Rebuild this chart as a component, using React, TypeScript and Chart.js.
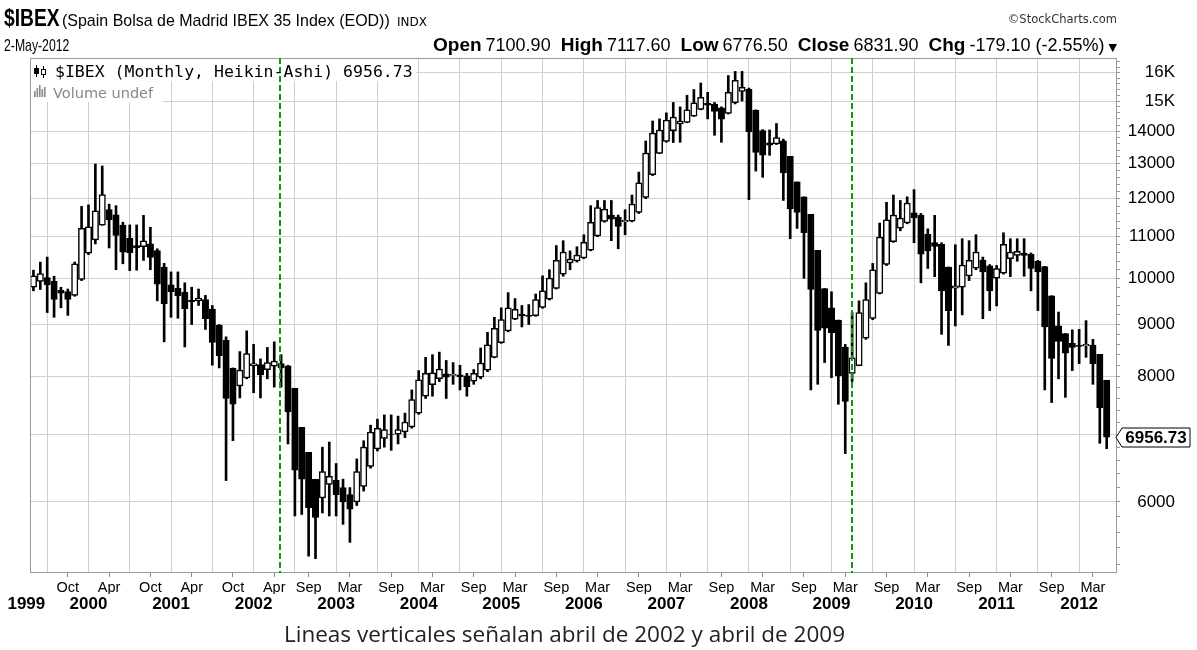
import React, { useEffect, useRef } from "react";
import { Chart, registerables } from "chart.js";

Chart.register(...registerables);

const SANS = "'Liberation Sans', Arial, sans-serif";
const MONO = "'DejaVu Sans Mono', monospace";
const DEJAVU = "'DejaVu Sans', sans-serif";

// ---------------- data ----------------
const firstYear = 1999;
const firstMonth = 5; // May 1999
const slotCount = 158; // May 1999 .. Jun 2012 (last slot empty)
const monthNames = ["Jan", "Feb", "Mar", "Apr", "May", "Jun", "Jul", "Aug", "Sep", "Oct", "Nov", "Dec"];

// Heikin-Ashi monthly candles, May 1999 .. May 2012
const haOpen = [
  9800, 9930, 10020, 9935, 9733, 9701, 9616, 9978,
  10594, 10922, 11296, 11703, 11567, 11299, 10960, 10780, 10750, 10825, 10658, 10264,
  9852, 9776, 9693, 9512, 9496, 9528, 9324, 8982, 8681, 8140, 7820, 7965,
  8193, 8212, 8116, 8183, 8232, 8191, 7780, 7115, 6718, 6319, 6055, 6243,
  6302, 6201, 6100, 6000, 6215, 6508, 6774, 6937, 7008, 7004, 7042, 7121,
  7350, 7640, 7845, 7952, 8041, 8010, 8020, 8005, 7908, 7979, 8110, 8350,
  8635, 8868, 9109, 9215, 9198, 9184, 9357, 9539, 9775, 10098, 10359, 10405,
  10478, 10669, 11020, 11390, 11555, 11503, 11382, 11401, 11626, 12033, 12677, 13309,
  13675, 14018, 14239, 14285, 14493, 14717, 14924, 14892, 14771, 14581, 14940, 15335,
  15408, 14694, 14017, 13634, 13597, 13699, 13215, 12468, 12049, 11575, 10663, 9772,
  9349, 9092, 8546, 8048, 8194, 8722, 9126, 9663, 10327, 10879, 11220, 11350,
  11615, 11548, 11059, 10855, 10808, 10264, 9777, 9804, 10057, 10239, 10430, 10290,
  10005, 10118, 10464, 10542, 10591, 10566, 10398, 10274, 9612, 8971, 8816, 8623,
  8582, 8571, 8586, 8408, 7924,
];
const haClose = [
  10060, 10110, 9850, 9530, 9670, 9530, 10340, 11210,
  11250, 11670, 12110, 11430, 11030, 10620, 10600, 10720, 10900, 10490, 9870, 9440,
  9700, 9610, 9330, 9480, 9560, 9120, 8640, 8380, 7600, 7500, 8110, 8420,
  8230, 8020, 8250, 8280, 8150, 7370, 6450, 6320, 5920, 5790, 6430, 6360,
  6100, 6000, 5900, 6430, 6800, 7040, 7100, 7080, 7000, 7080, 7200, 7580,
  7930, 8050, 8060, 8130, 7980, 8030, 7990, 7810, 8050, 8240, 8590, 8920,
  9100, 9350, 9320, 9180, 9170, 9530, 9720, 10010, 10420, 10620, 10450, 10550,
  10860, 11370, 11760, 11720, 11450, 11260, 11420, 11850, 12440, 13320, 13940, 14040,
  14360, 14460, 14330, 14700, 14940, 15130, 14860, 14650, 14390, 15300, 15730, 15480,
  13980, 13340, 13250, 13560, 13800, 12730, 11720, 11630, 11100, 9750, 8880, 8926,
  8836, 8000, 7550, 8340, 9250, 9530, 10200, 10990, 11430, 11560, 11480, 11880,
  11480, 10570, 10650, 10760, 9720, 9290, 9830, 10310, 10420, 10620, 10150, 9720,
  10230, 10810, 10620, 10640, 10540, 10230, 10150, 8950, 8330, 8660, 8430, 8540,
  8560, 8600, 8230, 7440, 6956.73,
];
const haHigh = [
  10190, 10380, 10500, 10050, 9800, 9760, 10380, 11790,
  11830, 12990, 12930, 11850, 11810, 11370, 11300, 11300, 11550, 11240, 10700, 10350,
  10150, 10150, 9900, 9800, 9760, 9620, 9400, 9000, 8750, 8150, 8460, 8870,
  8600, 8320, 8540, 8650, 8400, 8200, 7780, 7115, 6718, 6319, 6800, 6880,
  6550, 6320, 6200, 6620, 6900, 7150, 7250, 7320, 7320, 7300, 7350, 7750,
  8100, 8350, 8400, 8450, 8290, 8250, 8200, 8050, 8120, 8530, 8840, 9150,
  9350, 9680, 9550, 9400, 9420, 9650, 10060, 10200, 10780, 10900, 10650, 10750,
  11050, 11810, 11950, 11950, 11950, 11560, 11700, 12100, 12750, 13690, 14330, 14400,
  14600, 14950, 14800, 15200, 15400, 15630, 15300, 14950, 14800, 15900, 16050, 16050,
  15450, 14700, 14050, 14040, 14250, 13750, 13215, 12468, 12049, 11575, 10663, 9772,
  9700, 9092, 8600, 9250, 9500, 9900, 10350, 11350, 11900, 12100, 11950, 12050,
  12250, 11600, 11200, 11550, 10850, 10264, 10800, 10950, 10900, 11050, 10500, 10320,
  10300, 11100, 10950, 10950, 10950, 10600, 10420, 10280, 9612, 9260, 8816, 8890,
  8900, 9080, 8700, 8408, 7924,
];
const haLow = [
  9720, 9750, 9250, 9150, 9350, 9190, 9600, 9950,
  10560, 10820, 11290, 10720, 10200, 10340, 10180, 10190, 10420, 10200, 9500, 8650,
  9150, 9130, 8550, 9000, 9400, 8900, 8200, 8150, 6300, 6900, 7610, 7950,
  7700, 7610, 7950, 7800, 7800, 6850, 5810, 5830, 5300, 5270, 5850, 5810,
  5810, 5700, 5470, 5950, 6150, 6480, 6740, 6800, 6750, 6850, 6950, 7100,
  7330, 7600, 7640, 7900, 7600, 7850, 7750, 7640, 7850, 7950, 8080, 8340,
  8620, 8850, 9100, 8950, 9000, 9170, 9340, 9520, 9760, 10050, 10200, 10380,
  10460, 10650, 11000, 11370, 10900, 10700, 11050, 11380, 11600, 12000, 12650, 13300,
  13650, 13640, 13650, 14270, 14480, 14700, 14400, 13870, 13650, 14560, 14900, 15000,
  11970, 12780, 12600, 13250, 13580, 11950, 10950, 11210, 10000, 7750, 7850, 8250,
  7970, 7500, 6700, 7900, 8190, 8700, 9100, 9650, 10300, 10860, 11150, 11330,
  10850, 9900, 10230, 10040, 8800, 8580, 8970, 9200, 9950, 10200, 9120, 9290,
  9390, 10100, 10040, 10400, 10050, 9720, 9290, 7750, 7530, 7950, 7620, 8100,
  8230, 8350, 7850, 6860, 6776.5,
];

const monthTickKeys = [
  "1999-10", "2000-04", "2000-10", "2001-04", "2001-10", "2002-04", "2002-09",
  "2003-03", "2003-09", "2004-03", "2004-09", "2005-03", "2005-09", "2006-03",
  "2006-09", "2007-03", "2007-09", "2008-03", "2008-09", "2009-03", "2009-09",
  "2010-03", "2010-09", "2011-03", "2011-09", "2012-03",
];
const yearTickKeys = [
  "1999-05", "2000-01", "2001-01", "2002-01", "2003-01", "2004-01", "2005-01",
  "2006-01", "2007-01", "2008-01", "2009-01", "2010-01", "2011-01", "2012-01",
];
const gridMonthNumbers = [1, 7];

const yMajorValues = [6000, 7000, 8000, 9000, 10000, 11000, 12000, 13000, 14000, 15000, 16000];
const yMajorTexts = ["6000", "", "8000", "9000", "10000", "11000", "12000", "13000", "14000", "15K", "16K"];
const yMin = 5100;
const yMax = 16550;
const yMinorStep = 200;

const markerDates = ["2002-04-25", "2009-04-01"];

const quoteDate = "2-May-2012";
const quoteFields = ["Open", "High", "Low", "Close", "Chg"];
const quoteValues = ["7100.90", "7117.60", "6776.50", "6831.90", "-179.10 (-2.55%)"];

// ---------------- derived ----------------
const monthKeys: string[] = [];
for (let k = 0; k < slotCount; k++) {
  const m0 = firstMonth - 1 + k;
  const y = firstYear + Math.floor(m0 / 12);
  const m = (m0 % 12) + 1;
  monthKeys.push(`${y}-${String(m).padStart(2, "0")}`);
}
const monthOf = (key: string) => parseInt(key.slice(5, 7), 10);

const yAllTicks: number[] = [];
for (let v = Math.ceil(yMin / yMinorStep) * yMinorStep; v <= yMax; v += yMinorStep) yAllTicks.push(v);

const markerIndexes = markerDates.map((d) => {
  const idx = monthKeys.indexOf(d.slice(0, 7));
  const day = parseInt(d.slice(8, 10), 10);
  return idx + (day - 1) / 30;
});

const lastClose = haClose[haClose.length - 1];
const GRID = "#cfcfcf";

const bodies = haOpen.map((o, i) => [o, haClose[i]]);
const wicks = haLow.map((l, i) => [l, haHigh[i]]);

const decorPlugin = {
  id: "decor",
  beforeDatasetsDraw(chart: any) {
    const { ctx, chartArea: a } = chart;
    ctx.save();
    ctx.fillStyle = "#ffffff";
    ctx.fillRect(a.left + 1, a.top + 1, 385, 22);
    ctx.fillRect(a.left + 1, a.top + 23, 132, 21);
    // candle icon
    ctx.strokeStyle = "#000";
    ctx.fillStyle = "#000";
    ctx.lineWidth = 1;
    const ix = a.left + 4;
    const iy = a.top + 7;
    ctx.beginPath();
    ctx.moveTo(ix + 2.5, iy); ctx.lineTo(ix + 2.5, iy + 12);
    ctx.moveTo(ix + 9.5, iy + 1); ctx.lineTo(ix + 9.5, iy + 13);
    ctx.stroke();
    ctx.fillRect(ix, iy + 3, 5, 6);
    ctx.fillStyle = "#fff";
    ctx.fillRect(ix + 7, iy + 4, 5, 6);
    ctx.strokeRect(ix + 7.5, iy + 4.5, 4, 5);
    // volume icon
    ctx.fillStyle = "#888";
    const vy = a.top + 39;
    [6, 9, 12, 8, 10].forEach((h, k) => ctx.fillRect(ix + k * 2.5, vy - h, 1.6, h));
    ctx.restore();
  },
  afterDatasetsDraw(chart: any) {
    const { ctx, chartArea: a, scales } = chart;
    ctx.save();
    ctx.strokeStyle = "#9a9a9a";
    ctx.lineWidth = 1;
    ctx.strokeRect(a.left + 0.5, a.top + 0.5, a.right - a.left - 1, a.bottom - a.top - 1);
    ctx.strokeStyle = "#0c9a0c";
    ctx.lineWidth = 2;
    ctx.setLineDash([6, 3]);
    markerIndexes.forEach((mi) => {
      const x = Math.round(scales.x.getPixelForValue(mi));
      ctx.beginPath();
      ctx.moveTo(x, a.top);
      ctx.lineTo(x, a.bottom);
      ctx.stroke();
    });
    ctx.setLineDash([]);
    // last value box
    const y = Math.round(scales.y.getPixelForValue(lastClose)) + 0.5;
    const tip = a.right - 1;
    const bx = tip + 6;
    const bw = 68;
    const bh = 19;
    ctx.beginPath();
    ctx.moveTo(tip, y);
    ctx.lineTo(bx, y - bh / 2);
    ctx.lineTo(bx + bw, y - bh / 2);
    ctx.lineTo(bx + bw, y + bh / 2);
    ctx.lineTo(bx, y + bh / 2);
    ctx.closePath();
    ctx.fillStyle = "#fff";
    ctx.fill();
    ctx.strokeStyle = "#000";
    ctx.lineWidth = 1;
    ctx.stroke();
    ctx.fillStyle = "#000";
    ctx.font = `bold 17px ${SANS}`;
    ctx.textAlign = "center";
    ctx.textBaseline = "middle";
    ctx.fillText(lastClose.toFixed(2), bx + bw / 2, y + 1);
    ctx.restore();
  },
};

export default function App() {
  const ref = useRef<HTMLCanvasElement>(null);
  useEffect(() => {
    const chart = new Chart(ref.current as HTMLCanvasElement, {
      type: "bar",
      data: {
        labels: monthKeys,
        datasets: [
          {
            label: "body",
            data: bodies as any,
            backgroundColor: (c: any) => (haClose[c.dataIndex] >= haOpen[c.dataIndex] ? "#ffffff" : "#000000"),
            borderColor: "#000000",
            borderWidth: 1.5,
            borderSkipped: false,
            barThickness: 6.4,
            grouped: false,
            order: 0,
          } as any,
          {
            label: "wick",
            data: wicks as any,
            backgroundColor: "#000000",
            borderWidth: 0,
            barThickness: 2,
            grouped: false,
            order: 1,
          } as any,
        ],
      },
      options: {
        animation: false,
        responsive: false,
        maintainAspectRatio: false,
        devicePixelRatio: 1,
        layout: { padding: { left: 30, top: 58, right: 22, bottom: 33 } },
        plugins: { legend: { display: false }, tooltip: { enabled: false } },
        scales: {
          x: {
            type: "category",
            offset: true,
            weight: 0,
            grid: {
              offset: false,
              color: (c: any) => (gridMonthNumbers.includes(monthOf(monthKeys[c.index] || "0000-00")) ? GRID : "rgba(0,0,0,0)"),
              tickColor: (c: any) => (monthTickKeys.includes(monthKeys[c.index]) ? "#888" : "rgba(0,0,0,0)"),
              tickLength: 4,
              drawTicks: true,
            },
            border: { display: false },
            ticks: {
              autoSkip: false,
              maxRotation: 0,
              minRotation: 0,
              padding: 2,
              color: "#000",
              font: { family: SANS, size: 14.5 },
              callback: (_v: any, i: number) => (monthTickKeys.includes(monthKeys[i]) ? monthNames[monthOf(monthKeys[i]) - 1] : ""),
            },
            afterFit: (s: any) => { s.height = 21; },
          },
          x2: {
            type: "category",
            position: "bottom",
            offset: true,
            weight: 1,
            grid: { display: false, drawTicks: false },
            border: { display: false },
            ticks: {
              autoSkip: false,
              maxRotation: 0,
              minRotation: 0,
              padding: 0,
              color: "#000",
              font: { family: SANS, size: 17, weight: "bold" },
              callback: (_v: any, i: number) => {
                if (!yearTickKeys.includes(monthKeys[i])) return "";
                const yr = monthKeys[i].slice(0, 4);
                return i === 0 ? yr + "   " : yr;
              },
            },
            afterFit: (s: any) => { s.height = 23; },
          },
          y: {
            type: "logarithmic",
            position: "right",
            min: yMin,
            max: yMax,
            afterBuildTicks: (s: any) => { s.ticks = yAllTicks.map((v) => ({ value: v })); },
            grid: {
              color: (c: any) => (c.tick && yMajorValues.includes(c.tick.value) ? GRID : "rgba(0,0,0,0)"),
              tickColor: "#999",
              tickLength: 3,
              drawTicks: true,
            },
            border: { display: false },
            ticks: {
              autoSkip: false,
              padding: 4,
              crossAlign: "far",
              color: "#000",
              font: { family: SANS, size: 17 },
              callback: (v: any) => {
                const k = yMajorValues.indexOf(Number(v));
                return k >= 0 ? yMajorTexts[k] : "";
              },
            },
            afterFit: (s: any) => { s.width = 58; },
          },
        },
      } as any,
      plugins: [decorPlugin],
    });
    return () => chart.destroy();
  }, []);

  const abs = (o: any) => ({ position: "absolute", whiteSpace: "nowrap", lineHeight: 1, ...o } as React.CSSProperties);
  const squeeze = (k: number) => ({ transform: `scaleX(${k})`, transformOrigin: "left top" });

  return (
    <div style={{ position: "absolute", left: 0, top: 0, width: 1197, height: 650, background: "#fff", overflow: "hidden" }}>
      <canvas ref={ref} width={1197} height={650} style={{ position: "absolute", left: 0, top: 0, width: 1197, height: 650 }} />
      <div style={abs({ left: 4, top: 6, fontFamily: SANS, fontWeight: "bold", fontSize: 24, color: "#000", ...squeeze(0.8) })}>$IBEX</div>
      <div style={abs({ left: 62, top: 12, fontFamily: SANS, fontSize: 17, color: "#000", ...squeeze(0.94) })}>(Spain Bolsa de Madrid IBEX 35 Index (EOD))</div>
      <div style={abs({ left: 397, top: 16, fontFamily: DEJAVU, fontSize: 12, color: "#000" })}>INDX</div>
      <div style={abs({ right: 80, top: 14, fontFamily: DEJAVU, fontSize: 11.5, color: "#333" })}>©StockCharts.com</div>
      <div style={abs({ left: 4, top: 37, fontFamily: SANS, fontSize: 17, color: "#000", ...squeeze(0.72) })}>{quoteDate}</div>
      <div style={abs({ right: 80, top: 35, display: "flex", alignItems: "baseline", color: "#000" })}>
        {quoteFields.map((f, i) => (
          <span key={f} style={{ marginLeft: i === 0 ? 0 : 10 }}>
            <span style={{ fontFamily: SANS, fontWeight: "bold", fontSize: 19 }}>{f}</span>
            <span style={{ fontFamily: SANS, fontSize: 18, marginLeft: 4 }}>{quoteValues[i]}</span>
          </span>
        ))}
        <span style={{ fontFamily: DEJAVU, fontSize: 11, marginLeft: 4 }}>▼</span>
      </div>
      <div style={abs({ left: 55, top: 64, fontFamily: MONO, fontSize: 16.5, color: "#000" })}>
        {`$IBEX (Monthly, Heikin-Ashi) ${lastClose.toFixed(2)}`}
      </div>
      <div style={abs({ left: 53, top: 86, fontFamily: DEJAVU, fontSize: 14.5, color: "#888" })}>Volume undef</div>
      <div style={abs({ left: 284, top: 623, fontFamily: "'Open Sans', sans-serif", fontSize: 22.5, color: "#222" })}>
        Lineas verticales señalan abril de 2002 y abril de 2009
      </div>
    </div>
  );
}
